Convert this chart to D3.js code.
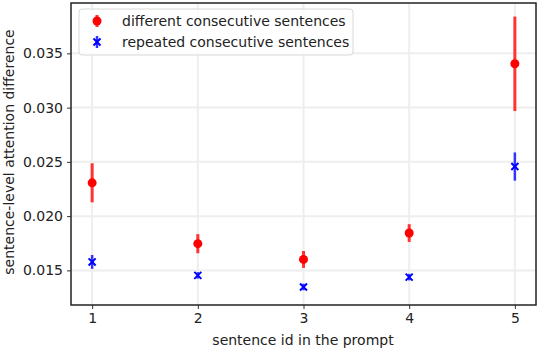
<!DOCTYPE html>
<html><head><meta charset="utf-8">
<script src="https://cdn.jsdelivr.net/npm/d3@7"></script>
<style>body{margin:0;background:#fff}svg{display:block}text{font-family:"DejaVu Sans",sans-serif;fill:#222}</style>
</head><body><svg id="c" width="538" height="348"></svg>
<script>
const sentenceIds = [1, 2, 3, 4, 5];
const differentMean = [0.02307, 0.01746, 0.01601, 0.01844, 0.03404];
const differentErr  = [0.00180, 0.00088, 0.00078, 0.00082, 0.00435];
const repeatedMean  = [0.01578, 0.01454, 0.01347, 0.01438, 0.02457];
const repeatedErr   = [0.00064, 0.00030, 0.00030, 0.00030, 0.00130];
const xTicks = [1, 2, 3, 4, 5];
const yTicks = [0.015, 0.020, 0.025, 0.030, 0.035];
const legendLabels = ["different consecutive sentences", "repeated consecutive sentences"];

const svg = d3.select("#c");
const L = 71, R = 536, T = 3, B = 305;
const x = d3.scaleLinear().domain([0.8, 5.2]).range([L, R]);
const y = d3.scaleLinear().domain([0.01181, 0.03964]).range([B, T]);

// grid
svg.append("g").selectAll("line").data(xTicks).join("line")
  .attr("x1", d => x(d)).attr("x2", d => x(d)).attr("y1", T).attr("y2", B)
  .attr("stroke", "#eeeeee").attr("stroke-width", 2);
svg.append("g").selectAll("line").data(yTicks).join("line")
  .attr("x1", L).attr("x2", R).attr("y1", d => y(d)).attr("y2", d => y(d))
  .attr("stroke", "#eeeeee").attr("stroke-width", 2);

// axes
const xa = svg.append("g").attr("transform", `translate(0,${B})`)
  .call(d3.axisBottom(x).tickValues(xTicks).tickFormat(d3.format("d")).tickSize(4).tickPadding(4));
const ya = svg.append("g").attr("transform", `translate(${L},0)`)
  .call(d3.axisLeft(y).tickValues(yTicks).tickFormat(d3.format(".3f")).tickSize(4).tickPadding(4));
[xa, ya].forEach(a => {
  a.select(".domain").remove();
  a.selectAll(".tick line").attr("stroke", "#333").attr("stroke-width", 1);
  a.selectAll(".tick text").attr("font-size", 14).attr("fill", "#222").style("font-family", "DejaVu Sans");
});
// frame
svg.append("rect").attr("x", L).attr("y", T).attr("width", R - L).attr("height", B - T)
  .attr("fill", "none").attr("stroke", "#222").attr("stroke-width", 1.5);

// error bars + markers
const diff = sentenceIds.map((s, i) => ({s, m: differentMean[i], e: differentErr[i]}));
const rep = sentenceIds.map((s, i) => ({s, m: repeatedMean[i], e: repeatedErr[i]}));
svg.append("g").selectAll("line").data(diff).join("line")
  .attr("x1", d => x(d.s)).attr("x2", d => x(d.s))
  .attr("y1", d => y(d.m - d.e)).attr("y2", d => y(d.m + d.e))
  .attr("stroke", "#ff3333").attr("stroke-width", 3);
svg.append("g").selectAll("circle").data(diff).join("circle")
  .attr("cx", d => x(d.s)).attr("cy", d => y(d.m)).attr("r", 4.5).attr("fill", "#ff0000");
svg.append("g").selectAll("line").data(rep).join("line")
  .attr("x1", d => x(d.s)).attr("x2", d => x(d.s))
  .attr("y1", d => y(d.m - d.e)).attr("y2", d => y(d.m + d.e))
  .attr("stroke", "#3333ff").attr("stroke-width", 2.5);
const xMark = d3.symbol().type(d3.symbolX).size(34);
svg.append("g").selectAll("path").data(rep).join("path")
  .attr("transform", d => `translate(${x(d.s)},${y(d.m)})`)
  .attr("d", xMark).attr("stroke", "#0000ff").attr("stroke-width", 2).attr("fill", "none");

// legend
const lg = svg.append("g");
lg.append("rect").attr("x", 79).attr("y", 9).attr("width", 274).attr("height", 46).attr("rx", 3)
  .attr("fill", "#fff").attr("fill-opacity", 0.8).attr("stroke", "#d8d8d8");
lg.append("line").attr("x1", 97).attr("x2", 97).attr("y1", 15).attr("y2", 27).attr("stroke", "#ff3333").attr("stroke-width", 3);
lg.append("circle").attr("cx", 97).attr("cy", 21).attr("r", 4.5).attr("fill", "#ff0000");
lg.append("line").attr("x1", 97).attr("x2", 97).attr("y1", 36).attr("y2", 48).attr("stroke", "#3333ff").attr("stroke-width", 2.5);
lg.append("path").attr("transform", "translate(97,42)").attr("d", xMark).attr("stroke", "#0000ff").attr("stroke-width", 2).attr("fill", "none");
lg.selectAll("text.l").data(legendLabels).join("text").attr("class", "l")
  .attr("x", 122).attr("y", (d, i) => 21 + i * 21).attr("dy", "0.35em")
  .attr("font-size", 14).text(d => d);

// axis labels
svg.append("text").attr("x", 303).attr("y", 340).attr("dy", "0.35em").attr("text-anchor", "middle")
  .attr("font-size", 14).text("sentence id in the prompt");
svg.append("text").attr("transform", "translate(9,152) rotate(-90)").attr("dy", "0.35em").attr("text-anchor", "middle")
  .attr("font-size", 14).text("sentence-level attention difference");
</script></body></html>
